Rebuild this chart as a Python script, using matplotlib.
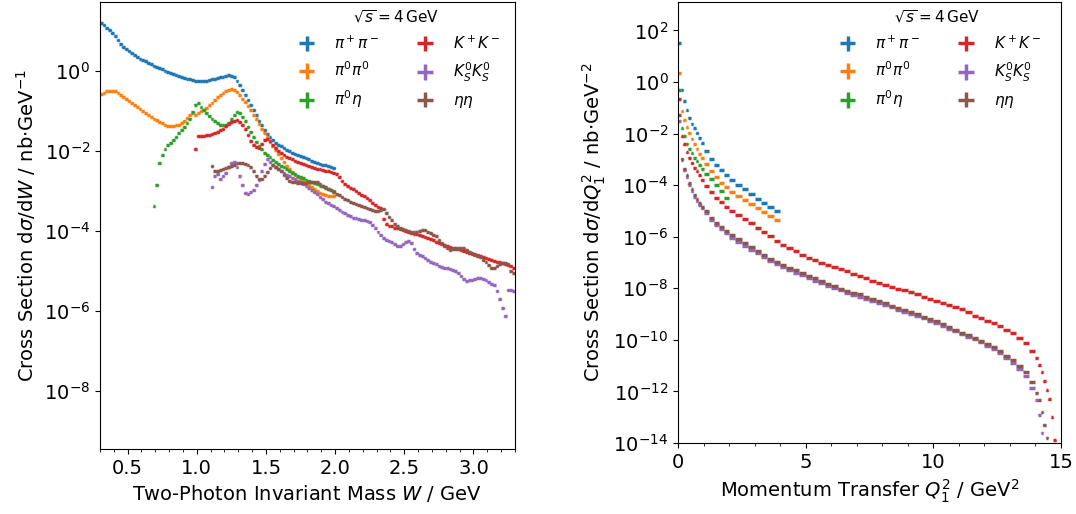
import matplotlib.pyplot as plt
import numpy as np
from matplotlib.ticker import AutoMinorLocator, NullLocator

plt.rcParams['font.size'] = 14

labels = [r'$\pi^+\pi^-$', r'$\pi^0\pi^0$', r'$\pi^0\eta$',
          r'$K^+K^-$', r'$K_S^0K_S^0$', r'$\eta\eta$']
colors = ['C0', 'C1', 'C2', 'C3', 'C4', 'C5']
rel_err = 0.05

# ---- left panel: dsigma/dW, bins of 0.02 GeV, values are log10(nb/GeV)
w_bin = 0.02
w_first = [0.31, 0.31, 0.69, 0.99, 1.11, 1.11]

w_pipi = [1.18, 1.13, 1.07, 1.01, 0.93, 0.85, 0.76, 0.67, 0.59, 0.53,
          0.48, 0.43, 0.39, 0.34, 0.30, 0.26, 0.23, 0.19, 0.16, 0.12,
          0.09, 0.06, 0.03, 0.00, -0.03, -0.06, -0.09, -0.11, -0.13, -0.16,
          -0.18, -0.20, -0.22, -0.23, -0.25, -0.26, -0.26, -0.26, -0.25, -0.24,
          -0.22, -0.21, -0.19, -0.17, -0.15, -0.14, -0.12, -0.13, -0.17, -0.25,
          -0.36, -0.48, -0.60, -0.73, -0.86, -0.99, -1.12, -1.25, -1.37, -1.48,
          -1.58, -1.67, -1.74, -1.80, -1.85, -1.89, -1.94, -1.98, -2.02, -2.05,
          -2.08, -2.10, -2.13, -2.16, -2.19, -2.22, -2.25, -2.28, -2.30, -2.33,
          -2.35, -2.37, -2.39, -2.41, -2.43]
w_pi0pi0 = [-0.58, -0.55, -0.52, -0.51, -0.51, -0.52, -0.55, -0.60, -0.66, -0.71,
            -0.76, -0.81, -0.86, -0.90, -0.95, -1.00, -1.05, -1.10, -1.15, -1.20,
            -1.24, -1.28, -1.32, -1.35, -1.38, -1.39, -1.39, -1.37, -1.35, -1.31,
            -1.26, -1.19, -1.11, -1.05, -1.10, -1.05, -1.01, -0.98, -0.93, -0.87,
            -0.80, -0.73, -0.67, -0.62, -0.57, -0.52, -0.48, -0.47, -0.49, -0.54,
            -0.62, -0.70, -0.79, -0.88, -0.99, -1.11, -1.22, -1.34, -1.45, -1.56,
            -1.67, -1.78, -1.88, -1.98, -2.08, -2.18, -2.28, -2.38, -2.47, -2.54,
            -2.60, -2.66, -2.71, -2.76, -2.81, -2.86, -2.91, -2.96, -3.01, -3.05,
            -3.08, -3.10, -3.12, -3.13, -3.14]
w_pi0eta = [-3.39, -2.85, -2.30, -2.12, -1.97, -1.87, -1.80, -1.74, -1.66, -1.57,
            -1.49, -1.41, -1.32, -1.20, -1.04, -0.85, -0.82, -0.92, -0.99, -1.06,
            -1.13, -1.20, -1.26, -1.31, -1.36, -1.37, -1.36, -1.31, -1.22, -1.12,
            -1.03, -1.06, -1.15, -1.27, -1.40, -1.54, -1.67, -1.78, -1.88, -1.97,
            -2.05, -2.11, -2.17, -2.23, -2.29, -2.34, -2.38, -2.42, -2.47, -2.51,
            -2.55, -2.59, -2.62, -2.66, -2.69, -2.72, -2.75, -2.78, -2.81, -2.84,
            -2.87, -2.89, -2.92, -2.95, -2.98, -3.01]
w_kk = [-1.96, -1.64, -1.63, -1.63, -1.62, -1.61, -1.59, -1.56, -1.53, -1.49,
        -1.45, -1.39, -1.34, -1.29, -1.25, -1.24, -1.28, -1.36, -1.47, -1.60,
        -1.75, -1.85, -1.92, -1.93, -1.84, -1.74, -1.70, -1.77, -1.85, -1.93,
        -2.00, -2.06, -2.11, -2.15, -2.19, -2.22, -2.25, -2.28, -2.31, -2.34,
        -2.36, -2.39, -2.41, -2.43, -2.45, -2.47, -2.49, -2.51, -2.52, -2.54,
        -2.55, -2.57, -2.66, -2.76, -2.84, -2.88, -2.92, -2.96, -3.00, -3.05,
        -3.10, -3.14, -3.18, -3.23, -3.30, -3.36, -3.40, -3.44, -3.70, -3.84,
        -3.87, -3.89, -3.92, -3.94, -3.96, -3.98, -4.01, -4.03, -4.05, -4.07,
        -4.09, -4.11, -4.13, -4.15, -4.18, -4.21, -4.24, -4.27, -4.30, -4.33,
        -4.36, -4.39, -4.41, -4.43, -4.44, -4.46, -4.48, -4.50, -4.52, -4.55,
        -4.57, -4.59, -4.61, -4.63, -4.65, -4.68, -4.71, -4.73, -4.75, -4.77,
        -4.79, -4.81, -4.83, -4.85, -4.88, -4.93]
w_ksks = [-2.90, -2.62, -2.58, -2.70, -2.64, -2.55, -2.42, -2.30, -2.28, -2.42,
          -2.62, -2.85, -3.05, -3.08, -3.02, -2.98, -2.86, -2.72, -2.52, -2.33,
          -2.22, -2.28, -2.35, -2.41, -2.47, -2.52, -2.56, -2.60, -2.64, -2.67,
          -2.71, -2.75, -2.79, -2.83, -2.87, -2.92, -2.97, -3.03, -3.09, -3.15,
          -3.21, -3.27, -3.31, -3.35, -3.39, -3.43, -3.47, -3.52, -3.56, -3.60,
          -3.64, -3.67, -3.69, -3.71, -3.73, -3.74, -3.76, -3.78, -3.86, -3.94,
          -4.02, -4.10, -4.18, -4.22, -4.25, -4.29, -4.33, -4.37, -4.38, -4.33,
          -4.29, -4.26, -4.30, -4.45, -4.55, -4.60, -4.64, -4.68, -4.72, -4.77,
          -4.81, -4.84, -4.87, -4.90, -4.92, -4.94, -4.95, -4.97, -5.00, -5.06,
          -5.13, -5.20, -5.26, -5.24, -5.22, -5.20, -5.18, -5.17, -5.20, -5.24,
          -5.28, -5.32, -5.36, -5.50, -5.70, -5.92, -6.13, -5.47, -5.48, -5.50]
w_etaeta = [-2.38, -2.50, -2.51, -2.48, -2.46, -2.44, -2.41, -2.38, -2.35, -2.32,
            -2.31, -2.32, -2.34, -2.37, -2.42, -2.52, -2.62, -2.71, -2.70, -2.62,
            -2.53, -2.44, -2.37, -2.40, -2.45, -2.52, -2.61, -2.69, -2.76, -2.78,
            -2.79, -2.80, -2.81, -2.81, -2.80, -2.79, -2.78, -2.77, -2.78, -2.82,
            -2.87, -2.91, -2.95, -2.99, -3.03, -3.07, -3.11, -3.16, -3.20, -3.24,
            -3.27, -3.30, -3.33, -3.36, -3.38, -3.41, -3.43, -3.46, -3.49, -3.51,
            -3.50, -3.47, -3.45, -3.55, -3.65, -3.74, -3.82, -3.88, -3.93, -3.96,
            -3.99, -4.01, -4.03, -4.04, -4.02, -4.00, -3.97, -3.98, -4.02, -4.06,
            -4.10, -4.14, -4.22, -4.31, -4.39, -4.44, -4.47, -4.46, -4.45, -4.44,
            -4.43, -4.44, -4.48, -4.52, -4.56, -4.60, -4.63, -4.66, -4.72, -4.79,
            -4.86, -4.92, -4.92, -4.88, -4.84, -4.81, -4.80, -4.82, -5.00, -5.06]
w_series = [w_pipi, w_pi0pi0, w_pi0eta, w_kk, w_ksks, w_etaeta]

# ---- right panel: dsigma/dQ1^2, values are log10(nb/GeV^2)
q_edges = ([0.0, 0.1, 0.2, 0.3, 0.4, 0.5, 0.6, 0.7, 0.8, 0.9, 1.0,
            1.2, 1.4, 1.6, 1.8, 2.0]
           + [2.0 + 0.25 * i for i in range(1, 49)]
           + [14.1, 14.2, 14.3, 14.4, 14.5, 14.6, 14.7, 14.8, 14.9, 15.0])

q_pipi = [1.52, -0.30, -0.75, -1.10, -1.38, -1.62, -1.79, -1.98, -2.17, -2.38,
          -2.67, -2.97, -3.23, -3.42, -3.60, -3.79, -3.98, -4.17, -4.35, -4.53,
          -4.70, -4.85, -5.02]
q_pi0pi0 = [0.35, -1.14, -1.49, -1.75, -1.98, -2.20, -2.39, -2.59, -2.78, -2.95,
            -3.18, -3.45, -3.70, -3.90, -4.08, -4.26, -4.42, -4.58, -4.74, -4.90,
            -5.06, -5.20, -5.34]
q_pi0eta = [-0.30, -1.79, -2.11, -2.39, -2.59, -2.76, -2.93, -3.08, -3.22, -3.36,
            -3.55, -3.78, -4.00, -4.22, -4.50]
q_kk = [-0.65, -2.11, -2.42, -2.72, -2.93, -3.14, -3.32, -3.47, -3.62, -3.80,
        -4.05, -4.28, -4.50, -4.66, -4.83, -5.00, -5.15, -5.33, -5.48, -5.65, -5.80,
        -5.96, -6.15, -6.32, -6.45, -6.57, -6.70, -6.82, -6.92, -7.02, -7.11, -7.19,
        -7.26, -7.34, -7.43, -7.52, -7.60, -7.70, -7.78, -7.87, -7.94, -8.01, -8.07,
        -8.14, -8.24, -8.34, -8.43, -8.50, -8.57, -8.66, -8.73, -8.81, -8.93, -9.06,
        -9.16, -9.26, -9.36, -9.48, -9.60, -9.75, -9.92, -10.13, -10.42, -10.70,
        -10.98, -11.25, -11.60, -11.95, -12.30, -13.00, -13.90]
q_ksks = [-1.50, -3.02, -3.42, -3.70, -3.98, -4.24, -4.45, -4.62, -4.77, -4.90,
          -5.10, -5.35, -5.54, -5.71, -5.87, -6.04, -6.20, -6.35, -6.50, -6.64, -6.79,
          -6.93, -7.06, -7.18, -7.29, -7.39, -7.49, -7.60, -7.70, -7.81, -7.91, -8.00,
          -8.08, -8.17, -8.25, -8.32, -8.40, -8.49, -8.57, -8.66, -8.74, -8.83, -8.91,
          -8.99, -9.08, -9.17, -9.25, -9.35, -9.45, -9.56, -9.67, -9.78, -9.88, -9.98,
          -10.10, -10.22, -10.36, -10.52, -10.70, -10.90, -11.12, -11.40, -11.85,
          -12.35, -12.90, -13.60]
q_etaeta = [-1.30, -2.97, -3.36, -3.62, -3.92, -4.17, -4.38, -4.55, -4.70, -4.83,
            -5.02, -5.27, -5.45, -5.62, -5.78, -5.95, -6.10, -6.26, -6.40, -6.55, -6.70,
            -6.85, -6.98, -7.10, -7.20, -7.30, -7.40, -7.51, -7.62, -7.73, -7.83, -7.92,
            -8.01, -8.10, -8.17, -8.24, -8.32, -8.41, -8.50, -8.58, -8.67, -8.76, -8.84,
            -8.92, -9.01, -9.10, -9.18, -9.28, -9.38, -9.50, -9.61, -9.72, -9.82, -9.92,
            -10.04, -10.16, -10.29, -10.44, -10.62, -10.80, -11.00, -11.25, -11.65,
            -12.05, -12.35, -12.80, -13.30, -13.80]
q_series = [q_pipi, q_pi0pi0, q_pi0eta, q_kk, q_ksks, q_etaeta]

fig = plt.figure(figsize=(10.76, 5.14), dpi=100)
ax1 = fig.add_axes([0.0929, 0.1265, 0.3857, 0.8696])
ax2 = fig.add_axes([0.6301, 0.1381, 0.3559, 0.8580])

for vals, start, lab, col in zip(w_series, w_first, labels, colors):
    x = start + w_bin * np.arange(len(vals))
    y = 10.0 ** np.array(vals)
    ax1.errorbar(x, y, xerr=w_bin / 2, yerr=y * rel_err, fmt='none',
                 ecolor=col, elinewidth=2.5, label=lab)

edges = np.array(q_edges)
centers = 0.5 * (edges[:-1] + edges[1:])
halfw = 0.5 * (edges[1:] - edges[:-1])
for vals, lab, col in zip(q_series, labels, colors):
    n = len(vals)
    y = 10.0 ** np.array(vals)
    ax2.errorbar(centers[:n], y, xerr=halfw[:n], yerr=y * rel_err, fmt='none',
                 ecolor=col, elinewidth=2.5, label=lab)

ax1.set_yscale('log')
ax1.set_xlim(0.3, 3.3)
ax1.set_ylim(10 ** -9.445, 10 ** 1.71)
ax1.set_yticks([1e-8, 1e-6, 1e-4, 1e-2, 1e0])
ax1.yaxis.set_minor_locator(NullLocator())
ax1.xaxis.set_minor_locator(AutoMinorLocator(5))
ax1.set_xlabel(r'Two-Photon Invariant Mass $W$ / GeV')
ax1.set_ylabel(r'Cross Section d$\sigma$/d$W$ / nb$\cdot$GeV$^{-1}$')

ax2.set_yscale('log')
ax2.set_xlim(0, 15)
ax2.set_ylim(1e-14, 10 ** 3.1)
ax2.set_xticks([0, 5, 10, 15])
ax2.set_yticks([1e-14, 1e-12, 1e-10, 1e-8, 1e-6, 1e-4, 1e-2, 1e0, 1e2])
ax2.yaxis.set_minor_locator(NullLocator())
ax2.xaxis.set_minor_locator(AutoMinorLocator(5))
ax2.set_xlabel(r'Momentum Transfer $Q_1^2$ / GeV$^2$')
ax2.set_ylabel(r'Cross Section d$\sigma$/d$Q_1^2$ / nb$\cdot$GeV$^{-2}$')

for ax, xanchor in ((ax1, 0.9795), (ax2, 0.9648)):
    ax.legend(title=r'$\sqrt{s} = 4\,\mathrm{GeV}$', ncol=2, frameon=False,
              fontsize=11, title_fontsize=11, loc='upper right',
              bbox_to_anchor=(xanchor, 1.0), borderaxespad=0.0,
              handletextpad=0.8, columnspacing=2.0, labelspacing=0.6)

fig.savefig('out.png', dpi=100)
